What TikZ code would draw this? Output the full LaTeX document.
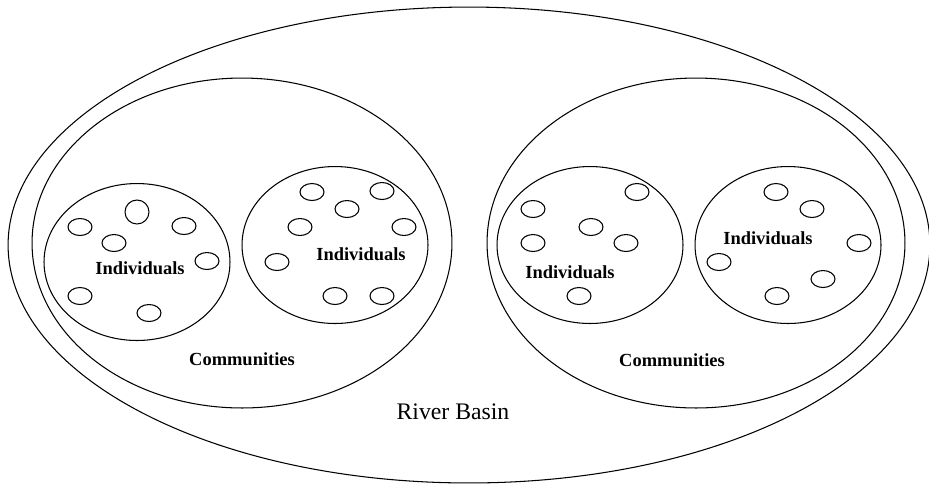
\documentclass[tikz,border=0pt]{standalone}
\usepackage{fontspec}
\setmainfont{Liberation Serif}
\usetikzlibrary{shapes.geometric}

\begin{document}
\begin{tikzpicture}[x=0.02cm,y=-0.02cm]
\tikzset{zone/.style={draw,ellipse,line width=0.6pt,inner sep=0pt,minimum width=#1},
groupe/.style={zone=3.72cm,minimum height=3.14cm},
perso/.style={zone=0.48cm,minimum height=0.34cm},
titre/.style={font=\fontsize{10.5}{12}\selectfont\bfseries,inner sep=0pt}}
\useasboundingbox (0,0) rectangle (929,485);

% bassin et communautes
\node[zone=18.44cm,minimum height=9.52cm] (B) at (469,245) {};
\node[zone=8.4cm,minimum height=6.6cm] (C1) at (242,243) {};
\node[zone=8.36cm,minimum height=6.6cm] (C2) at (696,243) {};

% groupes d'individus
\node[groupe] (G1) at (137,262) {};
\node[groupe] (G2) at (335,245) {};
\node[groupe] (G3) at (590,245) {};
\node[groupe] (G4) at (788,245) {};

% individus
\node[perso,minimum height=0.48cm] (P0) at (137,212) {};
\foreach \x/\y [count=\i] in {80/227,184/226,114/243,207/261,80/296,149/313}
  \node[perso] (P1-\i) at (\x,\y) {};
\foreach \x/\y [count=\i] in {312/192,382/191,347/209,300/227,404/227,277/262,335/296,382/296}
  \node[perso] (P2-\i) at (\x,\y) {};
\foreach \x/\y [count=\i] in {637/192,533/209,591/227,533/243,626/243,579/296}
  \node[perso] (P3-\i) at (\x,\y) {};
\foreach \x/\y [count=\i] in {776/192,812/209,859/243,719/262,823/279,777/296}
  \node[perso] (P4-\i) at (\x,\y) {};

% textes
\node[titre] (T1) at (140,268) {Individuals};
\node[titre] (T2) at (361,254) {Individuals};
\node[titre] (T3) at (570,272) {Individuals};
\node[titre] (T4) at (768,238) {Individuals};
\node[titre] (K1) at (242,359) {Communities};
\node[titre] (K2) at (672,360) {Communities};
\node[font=\fontsize{13.5}{15}\selectfont,inner sep=0pt] (R) at (453,412) {River Basin};

\end{tikzpicture}
\end{document}
